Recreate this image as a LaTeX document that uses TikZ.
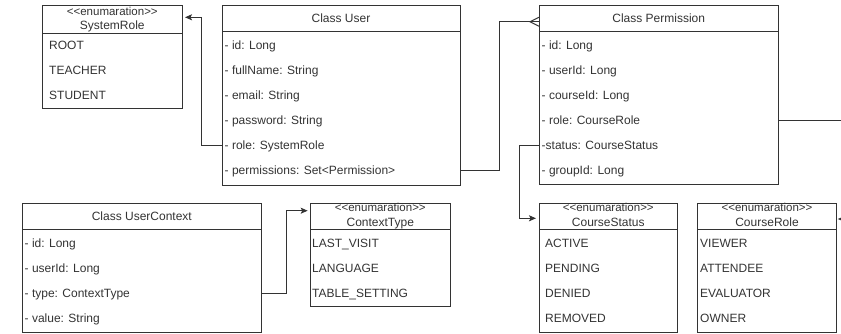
\documentclass[tikz,border=0pt]{standalone}
\usepackage{fontspec}
\setmainfont{Liberation Sans}
\usetikzlibrary{arrows.meta,calc}
\definecolor{uml}{HTML}{333333}
\begin{document}
\begin{tikzpicture}[x=1pt,y=-1pt,
  box/.style={draw=uml, line width=1pt, rectangle, anchor=north west, inner sep=0pt, outer sep=0pt},
  txt/.style={inner sep=0pt, text=uml, font=\fontsize{12}{14}\selectfont, text height=8.6pt, text depth=0pt},
  row/.style={txt, anchor=west},
  stereo/.style={txt, font=\fontsize{11.5}{13}\selectfont, text height=6pt},
  div/.style={draw=uml, line width=1pt},
  conn/.style={draw=uml, line width=1pt},
  arr/.style={conn, -{Stealth[length=7pt,width=6pt,inset=1.5pt]}, shorten >=3pt}]
\useasboundingbox (0,0) rectangle (841,333);

% SystemRole
\node[box, minimum width=139.3pt, minimum height=103pt] (sysrole) at (42.7,5.3) {};
\draw[div] (42.7,33) -- (182,33);
\node[stereo] (sr-st) at (112.3,12.8) {<\kern0pt<enumaration>\kern0pt>};
\node[txt] (sr-name) at (112.3,25.5) {SystemRole};
\node[row] (sr-1) at (49,45) {ROOT};
\node[row] (sr-2) at (49,70) {TEACHER};
\node[row] (sr-3) at (49,95) {STUDENT};

% User
\node[box, minimum width=238pt, minimum height=179.7pt] (user) at (222,5.3) {};
\draw[div] (222,31.7) -- (460,31.7);
\node[txt] (u-h) at (341,18.5) {Class User};
\node[row] (u-id) at (224.5,45) {- id: Long};
\node[row] (u-name) at (224.5,70) {- fullName: String};
\node[row] (u-mail) at (224.5,95) {- email: String};
\node[row] (u-pw) at (224.5,120) {- password: String};
\node[row] (u-role) at (224.5,145) {- role: SystemRole};
\node[row] (u-perm) at (224.5,170) {- permissions: Set<Permission>};

% Permission
\node[box, minimum width=239.3pt, minimum height=179pt] (perm) at (539,5.3) {};
\draw[div] (539,31.7) -- (778.3,31.7);
\node[txt] (p-h) at (658.7,18.5) {Class Permission};
\node[row] (p-id) at (541.5,45) {- id: Long};
\node[row] (p-user) at (541.5,70) {- userId: Long};
\node[row] (p-course) at (541.5,95) {- courseId: Long};
\node[row] (p-role) at (541.5,120) {- role: CourseRole};
\node[row] (p-status) at (541.5,145) {-status: CourseStatus};
\node[row] (p-group) at (541.5,170) {- groupId: Long};

% UserContext
\node[box, minimum width=238.3pt, minimum height=129.4pt] (uctx) at (22.7,203.3) {};
\draw[div] (22.7,229) -- (261,229);
\node[txt] (x-h) at (141.8,216.3) {Class UserContext};
\node[row] (x-id) at (24.5,243) {- id: Long};
\node[row] (x-user) at (24.5,268) {- userId: Long};
\node[row] (x-type) at (24.5,293) {- type: ContextType};
\node[row] (x-val) at (24.5,318) {- value: String};

% ContextType
\node[box, minimum width=139.3pt, minimum height=102.7pt] (ctype) at (310.7,203.3) {};
\draw[div] (310.7,229) -- (450,229);
\node[stereo] (ct-st) at (380.3,208.8) {<\kern0pt<enumaration>\kern0pt>};
\node[txt] (ct-name) at (380.3,222.5) {ContextType};
\node[row] (ct-1) at (312,243) {LAST\_VISIT};
\node[row] (ct-2) at (312,268) {LANGUAGE};
\node[row] (ct-3) at (312,293) {TABLE\_SETTING};

% CourseStatus
\node[box, minimum width=138.7pt, minimum height=129.4pt] (cstatus) at (539,203.3) {};
\draw[div] (539,229.3) -- (677.7,229.3);
\node[stereo] (cs-st) at (608.3,208.8) {<\kern0pt<enumaration>\kern0pt>};
\node[txt] (cs-name) at (608.3,222.5) {CourseStatus};
\node[row] (cs-1) at (545,243.3) {ACTIVE};
\node[row] (cs-2) at (545,268.3) {PENDING};
\node[row] (cs-3) at (545,293.3) {DENIED};
\node[row] (cs-4) at (545,318.3) {REMOVED};

% CourseRole
\node[box, minimum width=139.4pt, minimum height=129.4pt] (crole) at (697.3,203.3) {};
\draw[div] (697.3,229.3) -- (836.7,229.3);
\node[stereo] (cr-st) at (767,208.8) {<\kern0pt<enumaration>\kern0pt>};
\node[txt] (cr-name) at (767,222.5) {CourseRole};
\node[row] (cr-1) at (700,243.3) {VIEWER};
\node[row] (cr-2) at (700,268.3) {ATTENDEE};
\node[row] (cr-3) at (700,293.3) {EVALUATOR};
\node[row] (cr-4) at (700,318.3) {OWNER};

% connectors
\coordinate (c1) at (201.7,17.3);
\draw[arr] (user.west |- u-role) -| (c1) -- (sysrole.east |- c1);

\coordinate (c2) at (499,21.7);
\draw[conn] (user.east |- u-perm) -| (c2) -- (perm.west |- c2);
\coordinate (cf) at (530,21.7);
\draw[conn] (perm.west |- c2) ++(0,-4.5) -- (cf) -- ($(perm.west |- c2)+(0,4.5)$);

\coordinate (c3) at (519,218.3);
\draw[arr] (perm.west |- p-status) -| (c3) -- (cstatus.west |- c3);

\coordinate (c4) at (286,210.7);
\draw[arr] (uctx.east |- x-type) -| (c4) -- (ctype.west |- c4);

\coordinate (c5) at (870,219);
\draw[conn, -{Stealth[length=5pt,width=4pt,inset=1pt]}, shorten >=1pt] (perm.east |- p-role) -| (c5) -- (crole.east |- c5);
\end{tikzpicture}
\end{document}
